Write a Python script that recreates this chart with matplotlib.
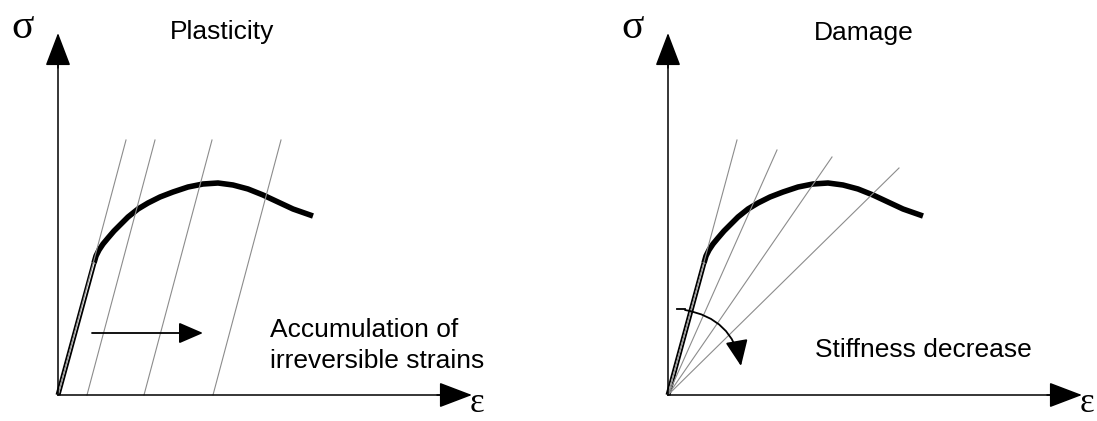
"""
Schematic stress-strain curves: plasticity vs damage.
"""
import matplotlib
matplotlib.use("Agg")
import matplotlib.pyplot as plt
from matplotlib.patches import FancyArrowPatch

# softening stress-strain curve (strain, stress), same on both panels
curve_strain = [0.36, 0.38, 0.41, 0.45, 0.50, 0.56, 0.62, 0.70, 0.80, 0.90, 1.02,
                1.15, 1.30, 1.45, 1.60, 1.75, 1.90, 2.05, 2.20, 2.35, 2.55]
curve_stress = [1.32, 1.39, 1.45, 1.51, 1.57, 1.64, 1.70, 1.78, 1.86, 1.92, 1.98,
                2.03, 2.08, 2.11, 2.12, 2.10, 2.06, 2.00, 1.93, 1.86, 1.79]
elastic_strain = [0.0, 0.36]
elastic_stress = [0.0, 1.32]

# plasticity: unloading lines keep the modulus, shifted by permanent strain
plastic_offsets = [0.0, 0.29, 0.86, 1.55]
unload_modulus = 3.75
unload_top = 2.55

# damage: secant lines from the origin with falling stiffness
secant_strain = [0.69, 1.09, 1.64, 2.31]
secant_stress = [2.55, 2.45, 2.38, 2.27]

axis_end_strain = 4.14
axis_end_stress = 3.62

W, H = 1097, 421
SANS = "Liberation Sans"
SERIF = "Liberation Serif"


def arrow(ax, start, end, hl, hw, lw, rad=0.0):
    p = FancyArrowPatch(start, end, arrowstyle="-|>,head_length=%g,head_width=%g" % (hl, hw),
                        connectionstyle="arc3,rad=%g" % rad, mutation_scale=1,
                        lw=lw, color="black", shrinkA=0, shrinkB=0, zorder=5)
    ax.add_patch(p)


def draw_axes(ax):
    ax.plot([0, 0], [0, axis_end_stress - 0.25], color="black", lw=1.1, zorder=4)
    ax.plot([0, axis_end_strain - 0.25], [0, 0], color="black", lw=1.1, zorder=4)
    arrow(ax, (0, axis_end_stress - 0.35), (0, axis_end_stress), 21, 8, 1.1)
    arrow(ax, (axis_end_strain - 0.35, 0), (axis_end_strain, 0), 21, 8, 1.1)
    ax.text(-0.35, 3.67, "σ", fontsize=30, family=SERIF, ha="center", va="center")
    ax.text(4.19, -0.245, "ε", fontsize=25, family=SERIF, ha="center", va="bottom")


def draw_curve(ax):
    ax.plot(curve_strain, curve_stress, color="black", lw=4.0,
            solid_capstyle="butt", solid_joinstyle="round", zorder=2)
    ax.plot(elastic_strain, elastic_stress, color="black", lw=3.6,
            solid_capstyle="butt", zorder=2)
    ax.plot(elastic_strain, elastic_stress, color="white", lw=1.0, zorder=2)


fig = plt.figure(figsize=(W / 100, H / 100), dpi=100)

# left panel: plasticity
ax1 = fig.add_axes([0, 0, 548 / W, 1])
ax1.set_xlim(-0.58, -0.58 + 5.48)
ax1.set_ylim(-0.26, -0.26 + 4.21)
ax1.axis("off")
draw_axes(ax1)
draw_curve(ax1)
for off in plastic_offsets:
    ax1.plot([off, off + unload_top / unload_modulus], [0, unload_top],
             color="#8c8c8c", lw=0.8, zorder=3)
arrow(ax1, (0.34, 0.62), (1.45, 0.62), 15, 6.5, 1.3)
ax1.text(1.64, 3.56, "Plasticity", fontsize=19, family=SANS, ha="center", va="baseline")
ax1.text(2.12, 0.58, "Accumulation of", fontsize=19, family=SANS, ha="left", va="baseline")
ax1.text(2.12, 0.27, "irreversible strains", fontsize=19, family=SANS, ha="left", va="baseline")

# right panel: damage
ax2 = fig.add_axes([548 / W, 0, 549 / W, 1])
ax2.set_xlim(-1.20, -1.20 + 5.49)
ax2.set_ylim(-0.26, -0.26 + 4.21)
ax2.axis("off")
draw_axes(ax2)
draw_curve(ax2)
for e, s in zip(secant_strain, secant_stress):
    ax2.plot([0, e], [0, s], color="#8c8c8c", lw=0.8, zorder=3)
ax2.plot([0.09, 0.17], [0.86, 0.86], color="black", lw=1.3, zorder=5)
arrow(ax2, (0.17, 0.85), (0.73, 0.29), 16, 7, 1.3, rad=-0.35)
ax2.text(1.96, 3.55, "Damage", fontsize=19, family=SANS, ha="center", va="baseline")
ax2.text(1.47, 0.38, "Stiffness decrease", fontsize=19, family=SANS, ha="left", va="baseline")

fig.savefig("out.png", dpi=100)
